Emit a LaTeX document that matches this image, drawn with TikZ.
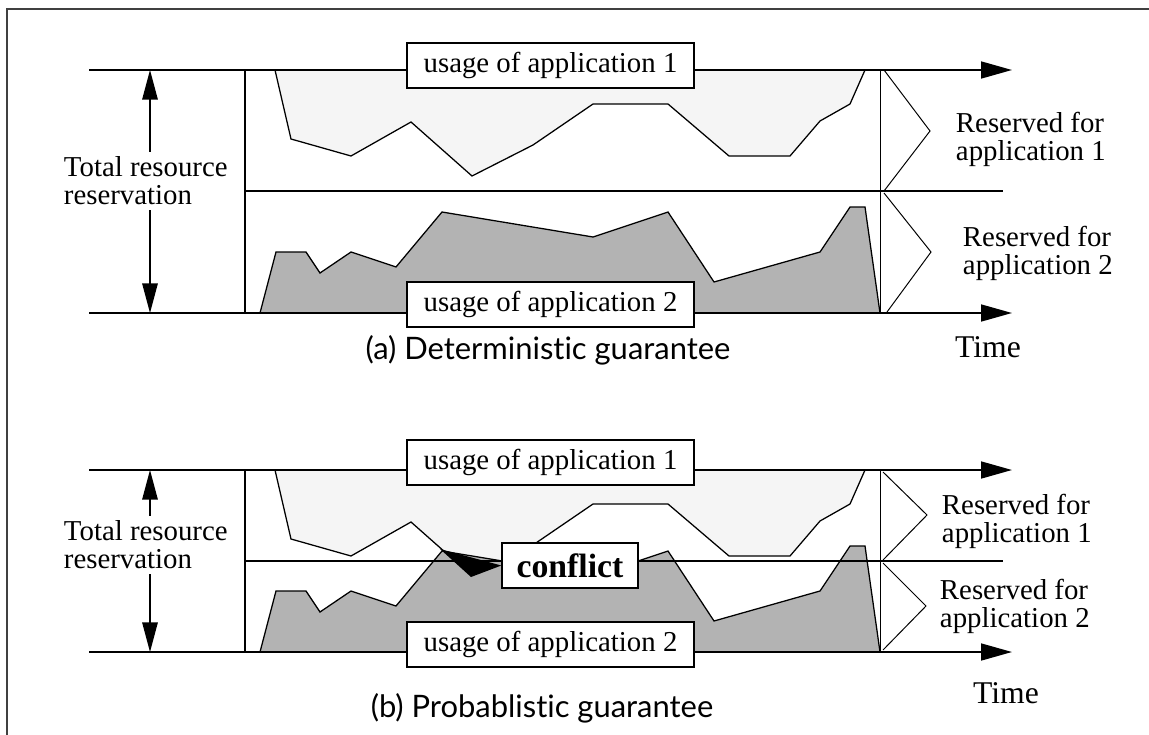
\documentclass[tikz,border=0pt]{standalone}
\usepackage{fontspec}
\setmainfont{Liberation Serif}
\newfontfamily\capfont[Ligatures=NoCommon]{Lato}
\usetikzlibrary{arrows.meta, positioning}

\definecolor{lightuse}{RGB}{245,245,245}
\definecolor{darkuse}{RGB}{179,179,179}

% usage curves, drawn in pixel units of the figure
\newcommand{\appone}{%
  \filldraw[curve, fill=lightuse] (275,70) -- (291,139) -- (351,156) -- (411,122) -- (472,176) -- (533,145)
    -- (593,104) -- (668,104) -- (729,156) -- (790,156) -- (820,121) -- (850,104) -- (865,70) -- cycle;}
\newcommand{\apptwo}{%
  \filldraw[curve, fill=darkuse] (260,313) -- (276,252) -- (306,252) -- (320,273) -- (351,252) -- (396,267)
    -- (442,212) -- (593,237) -- (668,212) -- (714,282) -- (820,252) -- (850,207) -- (865,207) -- (880,313) -- cycle;}

\tikzset{
  curve/.style={line width=0.9pt, line join=miter},
  axis/.style={line width=1.4pt, -{Triangle[length=22pt, width=12pt]}},
  level/.style={line width=1.2pt},
  split/.style={line width=0.7pt},
  resbrace/.style={line width=0.7pt},
  dimarrow/.style={line width=0.9pt, -{Triangle[length=21pt, width=11pt]}},
  usagebox/.style={draw, fill=white, line width=0.9pt, minimum width=7.175cm, minimum height=1.125cm, inner sep=0pt, font=\fontsize{20.5}{20}\selectfont},
  lbl/.style={align=left, font=\fontsize{20.5}{20}\selectfont},
  timelbl/.style={font=\fontsize{22.5}{24}\selectfont},
  caption/.style={font=\capfont\fontsize{22}{24}\selectfont}
}

\begin{document}
\begin{tikzpicture}[x=0.025cm, y=-0.025cm]
\useasboundingbox (0,0) rectangle (1149,735);

% frame
      \draw[line width=1.4pt, black!75] (7,735) -- (7,9) -- (1149,9);

% (a) deterministic
      \appone
      \apptwo
      \draw[axis] (89,70) -- (1012,70);
      \draw[axis] (89,313) -- (1012,313);
      \draw[level] (245,70) -- (245,313);
      \draw[level] (245,191) -- (1003,191);
      \draw[split] (880,70) -- (880,313);
      \draw[resbrace] (884,70) -- (930,131) -- (884,191);
      \draw[resbrace] (884,193) -- (931,252) -- (887,312);

      \node[usagebox] (use1a) at (550.5,65.5) {usage of application 1};
      \node[usagebox] (use2a) at (550.5,304.5) {usage of application 2};
      \node[lbl, anchor=west] (tota) at (59,181) {Total resource\\reservation};
      \coordinate (topa) at (150,70);
      \coordinate (bota) at (150,313);
      \draw[dimarrow] (tota.north -| topa) -- (topa);
      \draw[dimarrow] (tota.south -| bota) -- (bota);
      \node[lbl, anchor=west] (res1a) at (951,139) {Reserved for\\application 1};
      \node[lbl, anchor=west] (res2a) at (958,253) {Reserved for\\application 2};
      \node[timelbl] (timea) at (988,347) {Time};
      \node[caption] (capa) at (548,350) {(a) Deterministic guarantee};

% (b) probablistic
      \begin{scope}[shift={(0,400)}]
        \appone
      \end{scope}
      \begin{scope}[shift={(0,339)}]
        \apptwo
      \end{scope}
      \draw[axis] (89,470) -- (1012,470);
      \draw[axis] (89,652) -- (1012,652);
      \draw[level] (245,470) -- (245,652);
      \draw[level] (245,561) -- (1003,561);
      \draw[split] (880,470) -- (880,652);
      \draw[resbrace] (883,472) -- (927,515) -- (883,560);
      \draw[resbrace] (883,563) -- (926,606) -- (883,650);

      \node[usagebox] (use1b) at (550.5,462.5) {usage of application 1};
      \node[usagebox] (use2b) at (550.5,644.5) {usage of application 2};
      \node[usagebox, minimum width=3.4cm, font=\fontsize{24}{26}\selectfont\bfseries] (conflict) at (570,565.5) {conflict};
      \coordinate (cftip) at (440,549);
      \fill (cftip) -- (471,577) -- (conflict.west) -- cycle;
      \node[lbl, anchor=west] (totb) at (59,545) {Total resource\\reservation};
      \coordinate (topb) at (150,470);
      \coordinate (botb) at (150,652);
      \draw[dimarrow] (totb.north -| topb) -- (topb);
      \draw[dimarrow] (totb.south -| botb) -- (botb);
      \node[lbl, anchor=west] (res1b) at (937,521) {Reserved for\\application 1};
      \node[lbl, anchor=west] (res2b) at (935,606) {Reserved for\\application 2};
      \node[timelbl] (timeb) at (1006,693) {Time};
      \node[caption] (capb) at (542,708) {(b) Probablistic guarantee};

\end{tikzpicture}
\end{document}
